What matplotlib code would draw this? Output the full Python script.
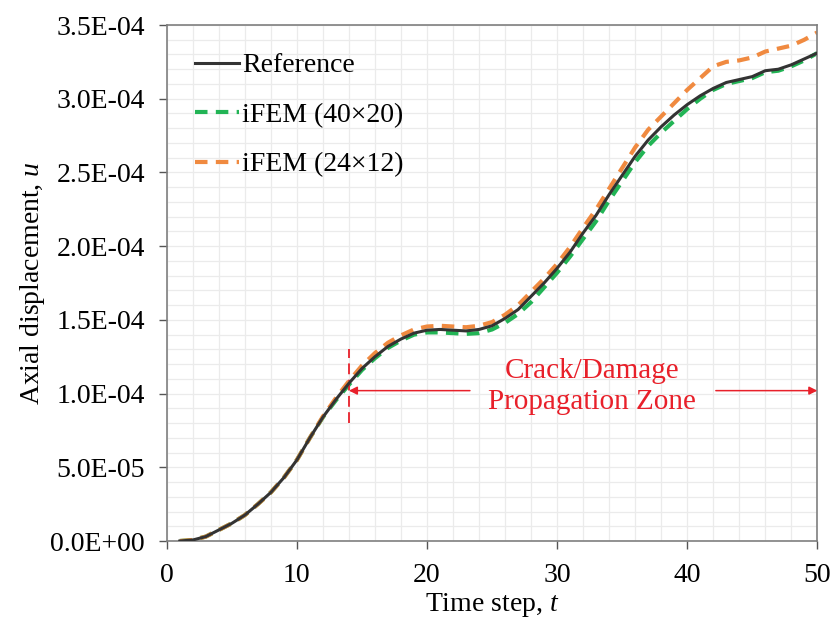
import matplotlib
matplotlib.use("Agg")
import matplotlib.pyplot as plt
from matplotlib.ticker import MultipleLocator, FixedLocator

plt.rcParams['font.family'] = ['Liberation Serif', 'DejaVu Serif']
plt.rcParams['mathtext.fontset'] = 'custom'
plt.rcParams['mathtext.rm'] = 'Liberation Serif'
plt.rcParams['mathtext.it'] = 'Liberation Serif:italic'

time_steps = list(range(1, 51))
reference = [0, 0.07, 0.3, 0.75, 1.2, 1.76, 2.5, 3.3, 4.3, 5.5,
             7.0, 8.4, 9.6, 10.7, 11.7, 12.5, 13.2, 13.7, 14.1, 14.3,
             14.35, 14.3, 14.25, 14.35, 14.6, 15.1, 15.7, 16.6, 17.5, 18.5,
             19.6, 20.9, 22.1, 23.5, 24.8, 26.1, 27.2, 28.1, 28.9, 29.6,
             30.2, 30.7, 31.1, 31.3, 31.5, 31.9, 32.0, 32.3, 32.7, 33.1]
ifem_40x20 = [0, 0.07, 0.3, 0.75, 1.2, 1.76, 2.5, 3.3, 4.3, 5.5,
              7.0, 8.4, 9.55, 10.6, 11.6, 12.4, 13.1, 13.6, 14.0, 14.15,
              14.15, 14.1, 14.05, 14.1, 14.35, 14.8, 15.4, 16.2, 17.2, 18.2,
              19.3, 20.5, 21.7, 23.1, 24.4, 25.7, 26.8, 27.7, 28.5, 29.3,
              30.0, 30.6, 31.0, 31.2, 31.4, 31.8, 31.9, 32.2, 32.6, 33.1]
ifem_24x12 = [0, 0.07, 0.3, 0.75, 1.2, 1.76, 2.5, 3.3, 4.3, 5.5,
              7.0, 8.45, 9.7, 10.85, 11.9, 12.75, 13.45, 13.95, 14.35, 14.55,
              14.6, 14.55, 14.5, 14.6, 14.85, 15.35, 16.0, 16.9, 17.8, 18.8,
              19.95, 21.25, 22.5, 23.9, 25.3, 26.7, 27.9, 28.8, 29.7, 30.6,
              31.4, 32.2, 32.5, 32.6, 32.8, 33.2, 33.4, 33.6, 34.0, 34.5]
scale = 1e-5
y_ticks = [0, 5e-5, 1e-4, 1.5e-4, 2e-4, 2.5e-4, 3e-4, 3.5e-4]
y_tick_labels = ["0.0E+00", "5.0E-05", "1.0E-04", "1.5E-04", "2.0E-04",
                 "2.5E-04", "3.0E-04", "3.5E-04"]
x_ticks = [0, 10, 20, 30, 40, 50]

fig = plt.figure(figsize=(8.34, 6.22), dpi=100)
ax = fig.add_axes([0.2, 0.1302, 0.78, 0.8296])

ax.plot(time_steps, [v * scale for v in reference], color='#333333', lw=2.2,
        label='Reference', zorder=3)
ax.plot(time_steps, [v * scale for v in ifem_40x20], color='#22B455', lw=3,
        ls=(0, (3, 2)), label='iFEM (40×20)', zorder=2)
ax.plot(time_steps, [v * scale for v in ifem_24x12], color='#F08A40', lw=3,
        ls=(0, (3, 2)), label='iFEM (24×12)', zorder=2.5)

ax.set_xlim(0, 50)
ax.set_ylim(0, 3.5e-4)
ax.xaxis.set_major_locator(FixedLocator(x_ticks))
ax.xaxis.set_minor_locator(MultipleLocator(2))
ax.yaxis.set_major_locator(FixedLocator(y_ticks))
ax.set_yticklabels(y_tick_labels)
ax.yaxis.set_minor_locator(MultipleLocator(1e-5))
ax.grid(True, which='both', color='#ebebeb', lw=0.9)
ax.set_axisbelow(True)
ax.tick_params(which='major', direction='out', length=5.8, width=1, labelsize=20,
               color='#555555', pad=10)
ax.tick_params(which='minor', length=0)
for s in ax.spines.values():
    s.set_color('#7f7f7f')
    s.set_linewidth(1.2)

ax.set_xlabel('Time step, $t$', fontsize=20, labelpad=2)
ax.set_ylabel('Axial displacement, $u$', fontsize=20, labelpad=2)

leg = ax.legend(loc='upper left', frameon=False, fontsize=20, handlelength=1.6,
                handletextpad=0.1, labelspacing=0.87, borderaxespad=0.6)

red = '#E8202A'
ax.plot([14, 14], [0.8e-4, 1.3e-4], color=red, lw=1.3, ls=(0, (6, 3)))
arrow_y = 1.02e-4
ax.annotate('', xy=(14, arrow_y), xytext=(23.3, arrow_y),
            arrowprops=dict(arrowstyle='-|>', color=red, lw=1.1,
                            mutation_scale=12, shrinkA=0, shrinkB=0))
ax.annotate('', xy=(50, arrow_y), xytext=(42.2, arrow_y),
            arrowprops=dict(arrowstyle='-|>', color=red, lw=1.1,
                            mutation_scale=12, shrinkA=0, shrinkB=0))
ax.text(32.7, 1.05e-4, 'Crack/Damage\nPropagation Zone', color=red,
        fontsize=21, ha='center', va='center', linespacing=1.25)

fig.savefig('out.png', dpi=100)
